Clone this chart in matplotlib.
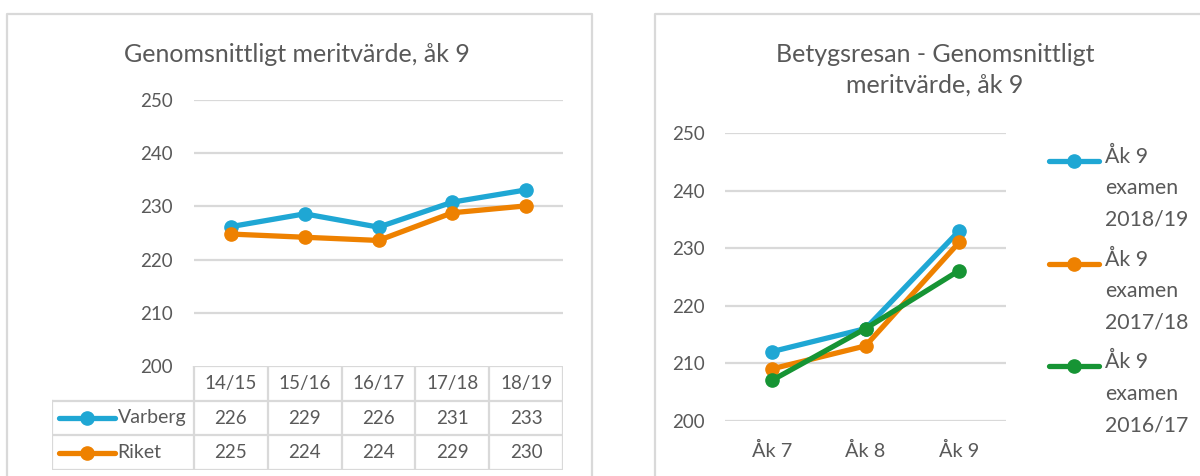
import matplotlib
matplotlib.use("Agg")
import matplotlib.pyplot as plt

plt.rcParams['font.family'] = ['Lato', 'DejaVu Sans']

# left chart data
years = ['14/15', '15/16', '16/17', '17/18', '18/19']
varberg = [226.2, 228.6, 226.1, 230.8, 233.1]
riket = [224.8, 224.2, 223.6, 228.8, 230.1]

# right chart data
grades = ['Åk 7', 'Åk 8', 'Åk 9']
exam_2018_19 = [212.0, 216.0, 233.0]
exam_2017_18 = [209.0, 213.0, 231.0]
exam_2016_17 = [207.0, 216.0, 226.1]
right_labels = [['Åk 9', 'examen', '2018/19'],
                ['Åk 9', 'examen', '2017/18'],
                ['Åk 9', 'examen', '2016/17']]

BLUE = '#1FA7D4'
ORANGE = '#EE8100'
GREEN = '#169434'
TXT = '#595959'
GRID = '#D9D9D9'
W, H = 1200, 476
LW = 3.8
MS = 9.5


def px_axes(fig, x0, y0, x1, y1):
    # pixel box (top-left origin) -> figure axes
    return fig.add_axes([x0 / W, (H - y1) / H, (x1 - x0) / W, (y1 - y0) / H])


fig = plt.figure(figsize=(12, 4.76), dpi=100)

# overlay for borders, titles and the right legend
ov = px_axes(fig, 0, 0, W, H)
ov.set_xlim(0, W)
ov.set_ylim(H, 0)
ov.axis('off')
ov.plot([7, 7, 592, 592], [480, 14, 14, 480], color=GRID, lw=1.6)
ov.plot([655, 655, 1210], [480, 14, 14], color=GRID, lw=1.6)

ov.text(297, 61.5, 'Genomsnittligt meritvärde, åk 9', ha='center', va='baseline',
        fontsize=18, color=TXT)
ov.text(935, 61.5, 'Betygsresan - Genomsnittligt', ha='center', va='baseline',
        fontsize=18, color=TXT)
ov.text(935, 93, 'meritvärde, åk 9', ha='center', va='baseline',
        fontsize=18, color=TXT)

# ---- left chart ----
ax1 = px_axes(fig, 194, 100, 563, 366)
ax1.set_xlim(0, len(years))
ax1.set_ylim(200, 250)
xs = [i + 0.5 for i in range(len(years))]
ax1.plot(xs, varberg, color=BLUE, lw=LW, marker='o', ms=MS, solid_capstyle='round')
ax1.plot(xs, riket, color=ORANGE, lw=LW, marker='o', ms=MS, solid_capstyle='round')
ax1.set_yticks(range(200, 251, 10))
for y in range(210, 251, 10):
    ax1.axhline(y, color=GRID, lw=1.6, zorder=0)
ax1.set_xticks([])
ax1.tick_params(axis='y', length=0, pad=15, labelsize=13.5, labelcolor=TXT)
for s in ax1.spines.values():
    s.set_visible(False)

# data table under the left chart
unit = 369 / len(years)
lx = -142 / unit
tb = px_axes(fig, 52, 366, 563, 470)
tb.set_xlim(lx, len(years))
tb.set_ylim(3, 0)
tb.axis('off')
tb.plot([0, len(years)], [0, 0], color=GRID, lw=1.6)
for r in (1, 2, 3):
    tb.plot([lx, len(years)], [r, r], color=GRID, lw=1.6)
for c in range(len(years) + 1):
    tb.plot([c, c], [0, 3], color=GRID, lw=1.6)
tb.plot([lx, lx], [1, 3], color=GRID, lw=1.6)
for i, lab in enumerate(years):
    tb.text(i + 0.5, 0.5, lab, ha='center', va='center', fontsize=13.5, color=TXT)
for row, (name, vals, col) in enumerate([('Varberg', varberg, BLUE),
                                          ('Riket', riket, ORANGE)], start=1):
    tb.plot([lx + 0.1, lx + 0.85], [row + 0.5, row + 0.5], color=col, lw=LW,
            solid_capstyle='round')
    tb.plot([lx + 0.475], [row + 0.5], color=col, marker='o', ms=MS)
    tb.text(lx + 0.89, row + 0.5, name, ha='left', va='center', fontsize=14, color=TXT)
    for i, v in enumerate(vals):
        tb.text(i + 0.5, row + 0.5, f'{v:.0f}', ha='center', va='center',
                fontsize=13.5, color=TXT)

# ---- right chart ----
ax2 = px_axes(fig, 725, 133, 1006, 420.7)
ax2.set_xlim(0, len(grades))
ax2.set_ylim(200, 250)
gx = [i + 0.5 for i in range(len(grades))]
series = [(exam_2018_19, BLUE), (exam_2017_18, ORANGE), (exam_2016_17, GREEN)]
for vals, col in series:
    ax2.plot(gx, vals, color=col, lw=LW, marker='o', ms=MS, solid_capstyle='round')
ax2.set_yticks(range(200, 251, 10))
for y in range(200, 251, 10):
    ax2.axhline(y, color=GRID, lw=1.6, zorder=0)
ax2.set_xticks(gx)
ax2.set_xticklabels(grades)
ax2.tick_params(axis='y', length=0, pad=14.5, labelsize=13.5, labelcolor=TXT)
ax2.tick_params(axis='x', length=0, pad=15, labelsize=14.3, labelcolor=TXT)
for s in ax2.spines.values():
    s.set_visible(False)

# legend
for k, ((vals, col), lines) in enumerate(zip(series, right_labels)):
    y0 = 161 + k * 102.5
    ov.plot([1049, 1099], [y0, y0], color=col, lw=LW, solid_capstyle='round')
    ov.plot([1074], [y0], color=col, marker='o', ms=MS)
    for j, ln in enumerate(lines):
        ov.text(1105, y0 + 2 + j * 31.5, ln, ha='left', va='baseline',
                fontsize=15.3, color=TXT)

plt.savefig('out.png', dpi=100)
